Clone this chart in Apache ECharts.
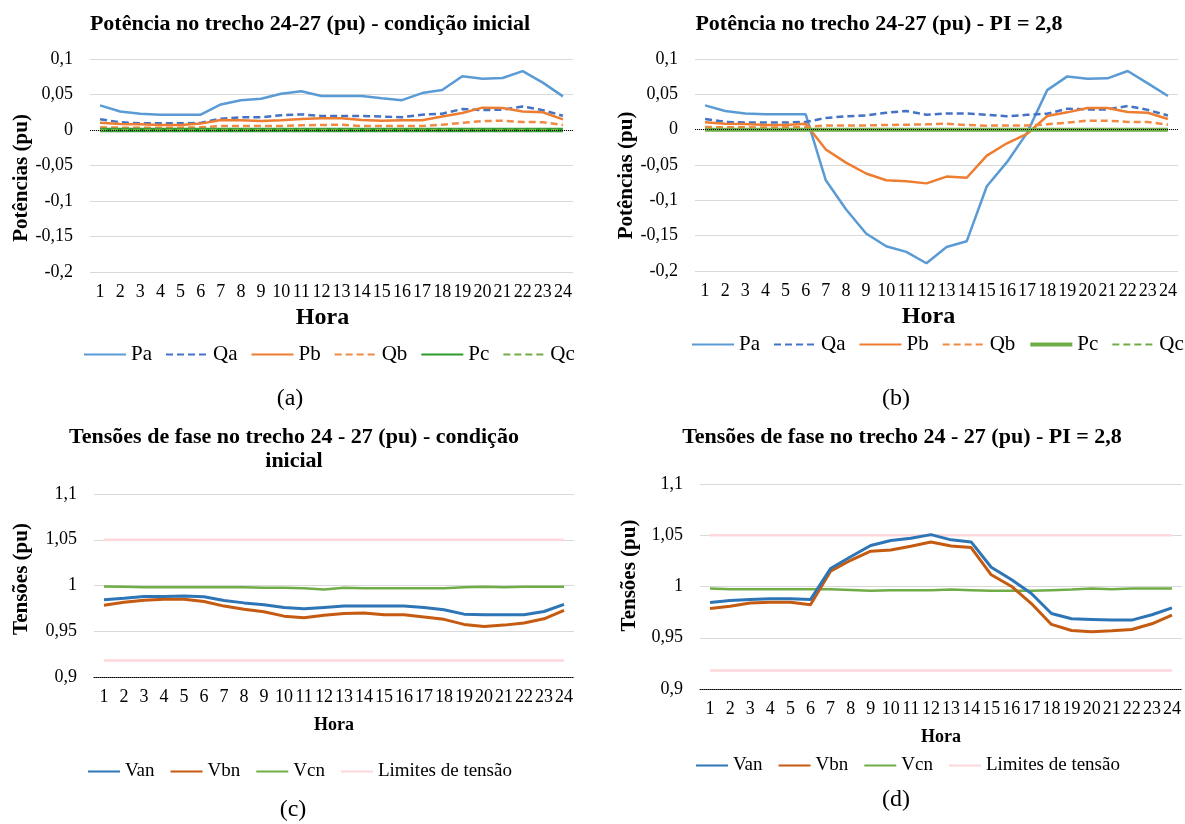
<!DOCTYPE html>
<html><head><meta charset="utf-8">
<script src="https://cdn.jsdelivr.net/npm/echarts@6/dist/echarts.min.js"></script>
<style>html,body{margin:0;padding:0;background:#fff}#c{width:1185px;height:824px}</style>
</head><body><div id="c"></div>
<script>
const hours = ['1','2','3','4','5','6','7','8','9','10','11','12','13','14','15','16','17','18','19','20','21','22','23','24'];

// (a) Potência - condição inicial
const paInicial = [0.0347,0.026,0.023,0.0216,0.0216,0.0216,0.036,0.042,0.044,0.051,0.0545,0.048,0.048,0.048,0.0446,0.042,0.052,0.0563,0.0756,0.0723,0.0732,0.083,0.0667,0.0474];
const qaInicial = [0.015,0.011,0.0094,0.0094,0.0094,0.010,0.016,0.018,0.018,0.0207,0.022,0.0197,0.0197,0.0197,0.019,0.018,0.0216,0.023,0.0296,0.028,0.0286,0.033,0.028,0.020];
const pbInicial = [0.0103,0.0085,0.008,0.007,0.007,0.009,0.014,0.0136,0.0127,0.0136,0.0155,0.0164,0.0164,0.014,0.013,0.0136,0.0136,0.019,0.024,0.0315,0.031,0.026,0.025,0.015];
const qbInicial = [0.0038,0.0033,0.0033,0.0033,0.0033,0.0038,0.0056,0.0056,0.0056,0.0056,0.0066,0.007,0.0075,0.0056,0.0056,0.0056,0.0056,0.0075,0.010,0.0127,0.013,0.0113,0.011,0.007];
const pcInicial = [0,0,0,0,0,0,0,0,0,0,0,0,0,0,0,0,0,0,0,0,0,0,0,0];
const qcInicial = [0,0,0,0,0,0,0,0,0,0,0,0,0,0,0,0,0,0,0,0,0,0,0,0];

// (b) Potência - PI = 2,8
const paPI = [0.0344,0.0264,0.023,0.0217,0.0217,0.0217,-0.0716,-0.1126,-0.147,-0.165,-0.173,-0.189,-0.166,-0.158,-0.080,-0.046,-0.0045,0.056,0.0754,0.072,0.0726,0.083,0.0655,0.0476];
const qaPI = [0.015,0.011,0.010,0.010,0.010,0.011,0.0165,0.019,0.020,0.024,0.0264,0.021,0.023,0.023,0.021,0.019,0.021,0.0226,0.0297,0.0287,0.0287,0.0335,0.028,0.020];
const pbPI = [0.0104,0.0085,0.008,0.0066,0.0066,0.0085,-0.028,-0.0467,-0.062,-0.0716,-0.073,-0.076,-0.0664,-0.068,-0.0367,-0.0193,-0.006,0.0193,0.0245,0.0306,0.0306,0.025,0.024,0.015];
const qbPI = [0.0038,0.0033,0.0033,0.003,0.0033,0.0038,0.006,0.006,0.006,0.0066,0.007,0.0075,0.0085,0.0066,0.0057,0.006,0.006,0.0075,0.010,0.0127,0.0127,0.011,0.011,0.007];
const pcPI = [0,0,0,0,0,0,0,0,0,0,0,0,0,0,0,0,0,0,0,0,0,0,0,0];
const qcPI = [0,0,0,0,0,0,0,0,0,0,0,0,0,0,0,0,0,0,0,0,0,0,0,0];

// (c) Tensões - condição inicial
const vanInicial = [0.9844,0.986,0.988,0.988,0.9884,0.9876,0.9836,0.981,0.979,0.976,0.9745,0.976,0.9775,0.9775,0.9775,0.9775,0.976,0.9735,0.9687,0.968,0.968,0.968,0.9716,0.9793];
const vbnInicial = [0.9785,0.9818,0.984,0.985,0.985,0.9825,0.9775,0.974,0.9713,0.9665,0.9647,0.9676,0.9695,0.970,0.968,0.968,0.9655,0.963,0.9575,0.9553,0.9567,0.959,0.9636,0.9727];
const vcnInicial = [0.9989,0.9985,0.998,0.998,0.998,0.998,0.998,0.998,0.9975,0.9975,0.997,0.9956,0.9975,0.997,0.997,0.997,0.997,0.997,0.998,0.9985,0.998,0.9985,0.9985,0.9985];

// (d) Tensões - PI = 2,8
const vanPI = [0.9844,0.9864,0.9873,0.988,0.988,0.9873,1.0175,1.029,1.040,1.0448,1.047,1.0506,1.0455,1.0435,1.0188,1.0068,0.9932,0.9737,0.9685,0.9679,0.9672,0.9672,0.9724,0.9792];
const vbnPI = [0.9786,0.9808,0.9838,0.9847,0.9847,0.9821,1.015,1.0256,1.0344,1.0357,1.0393,1.0435,1.0396,1.038,1.0114,1.0003,0.9834,0.963,0.9571,0.9558,0.9568,0.958,0.9636,0.972];
const vcnPI = [0.998,0.9974,0.9974,0.9974,0.9974,0.9974,0.9974,0.9967,0.9958,0.9964,0.9964,0.9964,0.997,0.9964,0.9958,0.9958,0.9958,0.9964,0.997,0.998,0.9974,0.998,0.998,0.998];

// Limites de tensão
const limiteSuperior = [1.05,1.05,1.05,1.05,1.05,1.05,1.05,1.05,1.05,1.05,1.05,1.05,1.05,1.05,1.05,1.05,1.05,1.05,1.05,1.05,1.05,1.05,1.05,1.05];
const limiteInferior = [0.918,0.918,0.918,0.918,0.918,0.918,0.918,0.918,0.918,0.918,0.918,0.918,0.918,0.918,0.918,0.918,0.918,0.918,0.918,0.918,0.918,0.918,0.918,0.918];

const FONT = "'Liberation Serif','Times New Roman',serif";
const C = {pa:'#5b9bd5', qa:'#4472c4', pb:'#ed7d31', qb:'#f08a45', pcA:'#2e9b2e', pcB:'#70ad47', qc:'#70ad47',
           van:'#2e75b6', vbn:'#c55a11', vcn:'#70ad47', lim:'#ffd6da'};
const DASH = [7,4];

function fmt(v){ return String(Math.round(v*100)/100).replace('.', ','); }

function xAx(gi, nameGap, nameSize, showLine, namePad){
  return {type:'category', gridIndex:gi, data:hours, boundaryGap:true,
    axisTick:{show:false},
    axisLine:{show:showLine, onZero:false, lineStyle:{color:'#000', type:'dotted', width:1}},
    axisLabel:{interval:0, margin:11, fontSize:18, fontFamily:FONT, color:'#000'},
    splitLine:{show:false},
    name:'Hora', nameLocation:'middle', nameGap:nameGap,
    nameTextStyle:{fontFamily:FONT, fontWeight:'bold', fontSize:nameSize, color:'#000', padding:namePad}};
}
function yAx(gi, min, max, name, nameGap, pad){
  return {type:'value', gridIndex:gi, min:min, max:max, interval:0.05,
    axisLine:{show:false}, axisTick:{show:false},
    axisLabel:{formatter:fmt, fontSize:18, margin:17, fontFamily:FONT, color:'#000'},
    splitLine:{lineStyle:{color:'#d9d9d9', width:1}},
    name:name, nameLocation:'middle', nameGap:nameGap,
    nameTextStyle:{fontFamily:FONT, fontWeight:'bold', fontSize:21, color:'#000', padding:pad}};
}
function ln(name, data, idx, color, width, dashed, extra){
  return Object.assign({type:'line', name:name, data:data, xAxisIndex:idx, yAxisIndex:idx,
    symbol:'none', smooth:false, animation:false, silent:true,
    lineStyle:{color:color, width:width, type: dashed ? DASH : 'solid'},
    itemStyle:{color:color}, emphasis:{disabled:true}}, extra||{});
}
const zeroLine = {markLine:{silent:true, symbol:'none', animation:false, label:{show:false},
  lineStyle:{color:'#000', type:'dotted', width:1}, data:[{yAxis:0}]}};

function legend(left, top, size, iw, gap, data){
  return {left:left, top:top, padding:0, itemWidth:iw, itemHeight:14, itemGap:gap, selectedMode:false,
    itemStyle:{opacity:0}, textStyle:{fontFamily:FONT, fontSize:size, color:'#000'}, data:data};
}
const titleStyle = {fontFamily:FONT, fontSize:22, fontWeight:'bold', color:'#000', lineHeight:24};
function caption(text, x, y){
  return {type:'text', x:x, y:y, style:{text:text, fontSize:24, fontFamily:FONT, fill:'#000', align:'center', verticalAlign:'middle'}};
}

const option = {
  backgroundColor:'#fff',
  animation:false,
  title:[
    {text:'Potência no trecho 24-27 (pu) - condição inicial', left:310, top:12, textAlign:'center', padding:0, textStyle:titleStyle},
    {text:'Potência no trecho 24-27 (pu) - PI = 2,8', left:879, top:12, textAlign:'center', padding:0, textStyle:titleStyle},
    {text:'Tensões de fase no trecho 24 - 27 (pu) - condição\ninicial', left:294, top:425, textAlign:'center', padding:0, textStyle:titleStyle},
    {text:'Tensões de fase no trecho 24 - 27 (pu) - PI = 2,8', left:902, top:425, textAlign:'center', padding:0, textStyle:titleStyle}
  ],
  grid:[
    {left:90, top:59, width:483, height:213, containLabel:false, outerBoundsMode:'none'},
    {left:695, top:59, width:483, height:212, containLabel:false, outerBoundsMode:'none'},
    {left:94, top:494, width:480, height:183, containLabel:false, outerBoundsMode:'none'},
    {left:700, top:484, width:482, height:205, containLabel:false, outerBoundsMode:'none'}
  ],
  xAxis:[
    xAx(0, 34, 24, false, [0,18,0,0]),
    xAx(1, 34, 24, false, [0,16,0,0]),
    xAx(2, 39, 18, true, [0,0,0,0]),
    xAx(3, 39, 18, true, [0,0,0,0])
  ],
  yAxis:[
    yAx(0, -0.2, 0.1, 'Potências (pu)', 57, [0,25,0,0]),
    yAx(1, -0.2, 0.1, 'Potências (pu)', 55, [0,21,0,0]),
    yAx(2, 0.9, 1.1, 'Tensões (pu)', 62, [0,0,0,13]),
    yAx(3, 0.9, 1.1, 'Tensões (pu)', 60, [0,0,0,22])
  ],
  legend:[
    legend(83, 344, 21, 42, 13, ['Pa','Qa','Pb','Qb','Pc','Qc']),
    legend(691, 334, 21, 42, 13, ['Pa','Qa','Pb','Qb',{name:'Pc', lineStyle:{color:C.pcB, width:4}},'Qc']),
    legend(87, 762, 19, 32, 15, ['Van','Vbn','Vcn','Limites de tensão']),
    legend(695, 756, 19, 32, 15, ['Van','Vbn','Vcn','Limites de tensão'])
  ],
  graphic:[
    caption('(a)', 290, 399),
    caption('(b)', 896, 399),
    caption('(c)', 293, 810),
    caption('(d)', 896, 800)
  ],
  series:[
    ln('Pa', paInicial, 0, C.pa, 2.5, false, zeroLine),
    ln('Qa', qaInicial, 0, C.qa, 2.5, true),
    ln('Pb', pbInicial, 0, C.pb, 2.5, false),
    ln('Qb', qbInicial, 0, C.qb, 2.5, true),
    ln('Pc', pcInicial, 0, C.pcA, 4.5, false),
    ln('Qc', qcInicial, 0, C.qc, 2.5, true),

    ln('Pa', paPI, 1, C.pa, 2.5, false, zeroLine),
    ln('Qa', qaPI, 1, C.qa, 2.5, true),
    ln('Pb', pbPI, 1, C.pb, 2.5, false),
    ln('Qb', qbPI, 1, C.qb, 2.5, true),
    ln('Pc', pcPI, 1, C.pcB, 4, false),
    ln('Qc', qcPI, 1, C.qc, 2.5, true),

    ln('Limites de tensão', limiteSuperior, 2, C.lim, 2.5, false),
    ln('Limites de tensão', limiteInferior, 2, C.lim, 2.5, false),
    ln('Vcn', vcnInicial, 2, C.vcn, 2.5, false),
    ln('Vbn', vbnInicial, 2, C.vbn, 3, false),
    ln('Van', vanInicial, 2, C.van, 3, false),

    ln('Limites de tensão', limiteSuperior, 3, C.lim, 2.5, false),
    ln('Limites de tensão', limiteInferior, 3, C.lim, 2.5, false),
    ln('Vcn', vcnPI, 3, C.vcn, 2.5, false),
    ln('Vbn', vbnPI, 3, C.vbn, 3, false),
    ln('Van', vanPI, 3, C.van, 3, false)
  ]
};
const chart = echarts.init(document.getElementById('c'), null, {renderer:'canvas'});
chart.setOption(option);
</script>
</body></html>
